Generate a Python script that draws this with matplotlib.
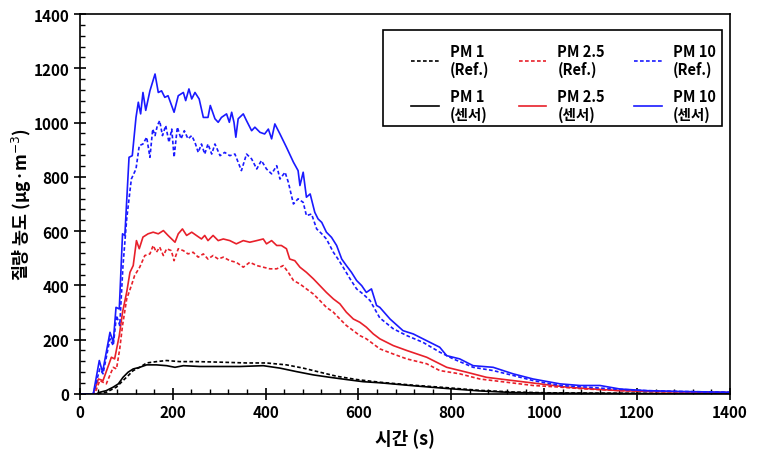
import matplotlib
matplotlib.use("Agg")
import matplotlib.pyplot as plt
from matplotlib.patches import Rectangle
from matplotlib.ticker import MultipleLocator

plt.rcParams["font.family"] = ["Noto Sans CJK KR", "DejaVu Sans"]

# PM10 sensor (blue solid)
t_pm10_s = [0, 29, 42, 49, 65, 72, 78, 85, 92, 97, 106, 113, 121, 126, 131, 136, 142, 151, 162,
            169, 176, 183, 190, 203, 212, 223, 228, 235, 241, 248, 257, 266, 276, 281, 291, 298,
            305, 316, 322, 327, 332, 336, 341, 352, 359, 370, 377, 388, 398, 406, 413, 420, 431,
            445, 460, 470, 474, 481, 488, 496, 506, 513, 521, 531, 542, 553, 564, 574, 585, 596,
            607, 617, 628, 639, 646, 668, 696, 718, 747, 775, 790, 818, 847, 890, 933, 976, 1034,
            1077, 1120, 1163, 1220, 1292, 1364, 1400]
pm10_s = [0, 0, 123, 80, 227, 190, 319, 313, 590, 584, 872, 878, 1019, 1075, 1032, 1111, 1045,
          1117, 1179, 1111, 1117, 1093, 1099, 1038, 1099, 1111, 1081, 1124, 1087, 1111, 1087,
          1019, 1019, 1063, 1014, 1001, 1019, 1032, 1001, 1038, 1001, 946, 1014, 1032, 1007, 970,
          983, 964, 958, 976, 940, 995, 958, 909, 854, 823, 768, 817, 725, 737, 669, 645, 632,
          596, 577, 547, 497, 473, 448, 418, 399, 374, 387, 326, 319, 276, 233, 221, 196, 172,
          141, 129, 104, 98, 74, 55, 37, 31, 31, 18, 12, 9, 7, 6]

# PM10 reference (blue dashed)
t_pm10_r = [0, 29, 43, 50, 65, 72, 79, 86, 93, 101, 111, 121, 128, 136, 144, 151, 157, 162, 167,
            172, 178, 185, 192, 198, 203, 210, 218, 225, 233, 241, 248, 255, 262, 269, 276, 284,
            291, 302, 312, 323, 334, 348, 359, 370, 381, 391, 402, 413, 424, 431, 442, 449, 460,
            470, 481, 488, 499, 510, 521, 531, 546, 556, 567, 582, 596, 610, 625, 639, 646, 675,
            704, 739, 775, 804, 847, 890, 933, 976, 1034, 1091, 1149, 1220, 1292, 1400]
pm10_r = [0, 0, 92, 74, 203, 178, 289, 252, 473, 645, 792, 829, 915, 921, 946, 872, 976, 952,
          989, 1007, 952, 989, 927, 976, 872, 983, 940, 970, 940, 952, 927, 890, 921, 884, 921,
          884, 921, 878, 890, 878, 884, 823, 884, 866, 829, 860, 829, 811, 841, 792, 817, 780,
          700, 719, 706, 657, 663, 608, 590, 571, 522, 497, 467, 424, 387, 368, 344, 301, 280,
          240, 215, 190, 154, 129, 98, 86, 68, 49, 31, 25, 18, 12, 9, 6]

# PM2.5 sensor (red solid)
t_pm25_s = [0, 29, 40, 50, 68, 75, 85, 92, 101, 108, 115, 122, 128, 136, 147, 158, 169, 180, 190,
            205, 212, 221, 230, 241, 251, 262, 269, 276, 287, 298, 309, 323, 337, 352, 366, 381,
            395, 402, 413, 424, 434, 445, 452, 463, 474, 488, 503, 517, 531, 546, 560, 574, 589,
            603, 617, 632, 646, 675, 704, 747, 790, 833, 876, 933, 991, 1048, 1106, 1163, 1235,
            1400]
pm25_s = [0, 0, 55, 49, 135, 129, 215, 301, 375, 448, 473, 565, 535, 578, 590, 596, 590, 602,
          584, 559, 590, 608, 584, 596, 584, 571, 584, 565, 584, 565, 571, 565, 553, 565, 559,
          565, 571, 553, 565, 547, 547, 535, 497, 491, 467, 448, 424, 399, 374, 350, 332, 301,
          276, 264, 246, 221, 203, 178, 160, 135, 98, 80, 61, 49, 37, 25, 18, 12, 9, 5]

# PM2.5 reference (red dashed)
t_pm25_r = [0, 32, 43, 57, 72, 79, 86, 92, 101, 111, 118, 129, 140, 151, 158, 165, 172, 180, 187,
            197, 203, 212, 223, 233, 244, 255, 266, 276, 287, 298, 309, 323, 337, 352, 366, 381,
            395, 409, 424, 438, 449, 460, 474, 488, 503, 517, 531, 546, 560, 574, 589, 603, 617,
            632, 646, 675, 704, 747, 775, 818, 861, 919, 976, 1034, 1091, 1163, 1235, 1400]
pm25_r = [0, 0, 49, 37, 98, 92, 166, 252, 350, 399, 436, 467, 510, 516, 547, 522, 541, 510, 535,
          528, 491, 535, 528, 516, 522, 504, 516, 497, 510, 497, 504, 491, 485, 467, 485, 473,
          467, 461, 461, 473, 448, 418, 405, 387, 368, 344, 319, 301, 276, 252, 233, 215, 203,
          184, 166, 147, 129, 111, 86, 74, 55, 43, 31, 25, 18, 12, 9, 5]

# PM1 sensor (black solid)
t_pm1_s = [0, 36, 43, 57, 72, 83, 93, 104, 115, 129, 144, 165, 187, 205, 223, 258, 302, 345, 395,
           431, 467, 503, 539, 574, 610, 646, 718, 790, 861, 933, 1005, 1100, 1250, 1400]
pm1_s = [0, 0, 6, 12, 25, 37, 61, 80, 92, 98, 107, 107, 104, 98, 104, 101, 101, 101, 104, 95,
         82, 70, 61, 53, 45, 41, 30, 20, 11, 5, 3, 2, 1, 1]

# PM1 reference (black dashed)
t_pm1_r = [0, 36, 57, 79, 93, 104, 115, 129, 144, 165, 187, 215, 251, 302, 359, 402, 445, 481,
           517, 553, 596, 646, 718, 790, 861, 933, 1005, 1100, 1250, 1400]
pm1_r = [0, 0, 6, 25, 49, 67, 86, 98, 114, 119, 123, 119, 119, 117, 114, 114, 107, 95, 80, 65,
         53, 43, 32, 23, 13, 7, 4, 3, 2, 1]

fig = plt.figure(figsize=(7.6, 4.56), dpi=100)
ax = fig.add_axes([0.105, 0.134, 0.8555, 0.833])

dash = (0, (2.2, 1.4))
lw = 1.2
h1r, = ax.plot(t_pm1_r, pm1_r, color="black", lw=lw, ls=dash, label="PM 1\n(Ref.)")
h1s, = ax.plot(t_pm1_s, pm1_s, color="black", lw=lw, label="PM 1\n(센서)")
h25r, = ax.plot(t_pm25_r, pm25_r, color="#e8202a", lw=lw, ls=dash, label="PM 2.5\n(Ref.)")
h25s, = ax.plot(t_pm25_s, pm25_s, color="#e8202a", lw=lw, label="PM 2.5\n(센서)")
h10r, = ax.plot(t_pm10_r, pm10_r, color="#1a1aff", lw=lw, ls=dash, label="PM 10\n(Ref.)")
h10s, = ax.plot(t_pm10_s, pm10_s, color="#1a1aff", lw=lw, label="PM 10\n(센서)")

ax.set_xlim(0, 1400)
ax.set_ylim(0, 1400)
ax.xaxis.set_major_locator(MultipleLocator(200))
ax.yaxis.set_major_locator(MultipleLocator(200))
ax.xaxis.set_minor_locator(MultipleLocator(40))
ax.yaxis.set_minor_locator(MultipleLocator(40))
ax.tick_params(which="major", direction="inout", length=8, width=1.2, labelsize=11)
ax.tick_params(which="minor", direction="in", length=3.5, width=1)
for s in ax.spines.values():
    s.set_linewidth(1.2)
for lab in ax.get_xticklabels() + ax.get_yticklabels():
    lab.set_fontweight("bold")

ax.set_xlabel("시간 (s)", fontsize=13, fontweight="bold", labelpad=6)
ax.set_ylabel("질량 농도 (μg·m$^{-3}$)", fontsize=12.5, fontweight="bold")
ax.yaxis.set_label_coords(-0.07, 0.5)

# legend box drawn separately so the inner spacing can match
ax.add_patch(Rectangle((0.466, 0.705), 0.522, 0.253, transform=ax.transAxes,
                       facecolor="white", edgecolor="black", lw=1.2, zorder=4))
leg = ax.legend(handles=[h1r, h1s, h25r, h25s, h10r, h10s], ncol=3,
                loc="upper left", bbox_to_anchor=(0.51, 0.925),
                frameon=False, prop={"weight": "bold", "size": 10.5},
                handlelength=1.9, handletextpad=0.75, labelspacing=0.7,
                columnspacing=2.0, borderpad=0, borderaxespad=0)
leg.set_zorder(5)

fig.savefig("out.png", dpi=100)
